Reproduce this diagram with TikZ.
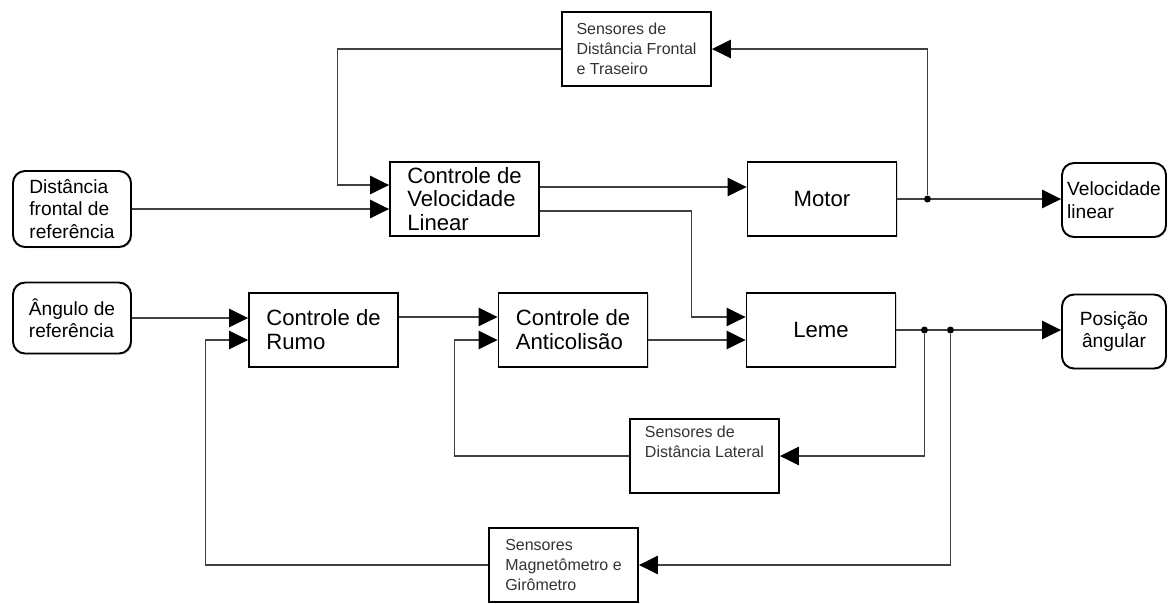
\documentclass[tikz,border=0pt]{standalone}
\usepackage{fontspec}
\setmainfont{Liberation Sans}
\usetikzlibrary{arrows.meta,calc,shadows}
\def\bigfont{\fontsize{12.6}{13.6}\selectfont}
\def\iofont{\fontsize{10.9}{12.8}\selectfont}
\def\sensfont{\fontsize{9.1}{11.3}\selectfont}

\begin{document}
\begin{tikzpicture}[x=0.02cm,y=-0.02cm,
    >={Triangle[length=0.38cm,width=0.37cm,color=black]},
    wire/.style={draw=black!75,line width=0.6pt},
    block/.style={draw,line width=1.1pt,fill=white,minimum width=2.98cm,minimum height=1.48cm,
      align=left,font=\bigfont,inner sep=0pt,
      drop shadow={shadow xshift=0.7pt,shadow yshift=-0.7pt,opacity=0.3}},
    sensor/.style={block,font=\sensfont,text=black!80},
    inout/.style={draw,line width=1.1pt,fill=white,rounded corners=0.24cm,minimum height=1.48cm,
      align=left,font=\iofont,inner sep=0pt,
      drop shadow={shadow xshift=0.7pt,shadow yshift=-0.7pt,opacity=0.3}},
    junction/.style={circle,fill=black,inner sep=0pt,minimum size=0.14cm}]
  \useasboundingbox (0,0) rectangle (1172,603);

  \node[inout,minimum width=2.36cm,minimum height=1.52cm] (dfr) at (72,209) {Distância\\frontal de\\referência};
  \node[inout,minimum width=2.36cm,minimum height=1.42cm] (ang) at (72,318) {Ângulo de\\referência};
  \node[inout,minimum width=2.08cm] (vel) at (1114,200) {Velocidade\\linear};
  \node[inout,minimum width=2.08cm,align=center] (pos) at (1114,331.5) {Posição\\ângular};

  \node[block] (cvl) at (464.5,199) {Controle de\\Velocidade\\Linear};
  \node[block,align=center] (motor) at (822,199) {Motor};
  \node[block] (rumo) at (323.5,330) {Controle de\\Rumo};
  \node[block] (anti) at (573,330) {Controle de\\Anticolisão};
  \node[block,align=center] (leme) at (821,330) {Leme};

  \node[sensor] (sdf) at (636.5,49) {Sensores de\\Distância Frontal\\e Traseiro};
  \node[sensor] (sdl) at (704.5,456) {Sensores de\\Distância Lateral\\[5pt]};
  \node[sensor] (smg) at (563.5,565) {Sensores\\Magnetômetro e\\Girômetro};

  \node[junction] (jm) at ($(motor.east)+(30,0)$) {};
  \node[junction] (jl) at ($(leme.east)+(28,0)$) {};
  \node[junction] (jr) at ($(leme.east)+(54,0)$) {};

  % velocidade
  \draw[wire,->] (dfr.east) -- (dfr.east -| cvl.west);
  \draw[wire,->] (sdf.west) -- ++(-224,0) |- ($(cvl.west)+(0,-14)$);
  \draw[wire,->] ($(cvl.east)+(0,-12)$) -- ($(motor.west)+(0,-12)$);
  \draw[wire,->] ($(cvl.east)+(0,12)$) -| ($(leme.west)+(-54,-13)$) -- ($(leme.west)+(0,-13)$);
  \draw[wire] (motor.east) -- (jm);
  \draw[wire,->] (jm) -- (jm -| vel.west);
  \draw[wire,->] (jm) |- (sdf.east);

  % rumo
  \draw[wire,->] (ang.east) -- (ang.east -| rumo.west);
  \draw[wire,->] ($(rumo.east)+(0,-13)$) -- ($(anti.west)+(0,-13)$);
  \draw[wire,->] ($(anti.east)+(0,10)$) -- ($(leme.west)+(0,10)$);
  \draw[wire] (leme.east) -- (jl) -- (jr);
  \draw[wire,->] (jr) -- (jr -| pos.west);
  \draw[wire,->] (jl) |- (sdl.east);
  \draw[wire,->] (jr) |- (smg.east);
  \draw[wire,->] (sdl.west) -| ($(anti.west)+(-43,10)$) -- ($(anti.west)+(0,10)$);
  \draw[wire,->] (smg.west) -| ($(rumo.west)+(-43,10)$) -- ($(rumo.west)+(0,10)$);
\end{tikzpicture}
\end{document}
